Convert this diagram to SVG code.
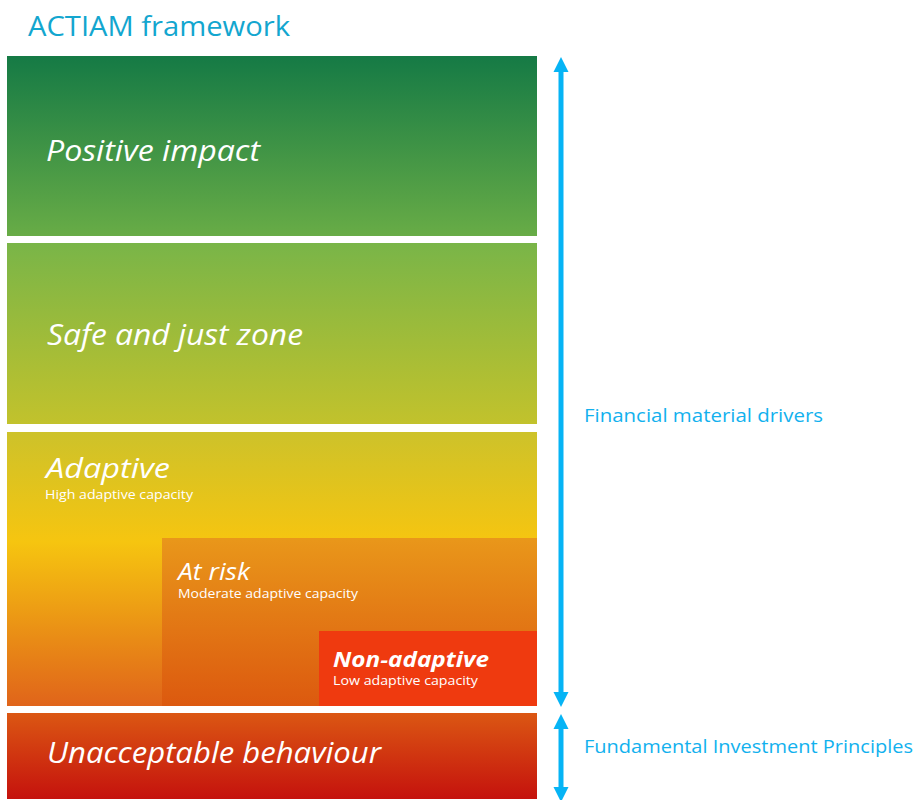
<svg xmlns="http://www.w3.org/2000/svg" width="914" height="800" viewBox="0 0 914 800">
<style>
.lbl{font-family:"Open Sans","Liberation Sans",sans-serif;font-style:italic;fill:#ffffff}
.sub{font-family:"Open Sans","Liberation Sans",sans-serif;fill:#ffffff;font-size:12.5px}
.side{font-family:"Open Sans","Liberation Sans",sans-serif;fill:#12b1ee;font-size:19px}
.arrow{stroke:#06b4f5;stroke-width:5;fill:none}
.head{fill:#06b4f5}
</style>
<defs>
<linearGradient id="g1" x1="0" y1="0" x2="0" y2="1"><stop offset="0" stop-color="#157a45"/><stop offset="1" stop-color="#68ac46"/></linearGradient>
<linearGradient id="g2" x1="0" y1="0" x2="0" y2="1"><stop offset="0" stop-color="#79b548"/><stop offset="1" stop-color="#c2c22c"/></linearGradient>
<linearGradient id="g3" x1="0" y1="0" x2="0" y2="1"><stop offset="0" stop-color="#cdc22a"/><stop offset="0.4" stop-color="#f6c510"/><stop offset="1" stop-color="#e0641a"/></linearGradient>
<linearGradient id="g4" x1="0" y1="0" x2="0" y2="1"><stop offset="0" stop-color="#e9971a"/><stop offset="1" stop-color="#dc590f"/></linearGradient>
<linearGradient id="g5" x1="0" y1="0" x2="0" y2="1"><stop offset="0" stop-color="#db5713"/><stop offset="1" stop-color="#c5120d"/></linearGradient>
</defs>
<rect width="914" height="800" fill="#ffffff"/>
<text x="28" y="36" font-family="'Open Sans','Liberation Sans',sans-serif" font-size="28" fill="#13a6cf" textLength="262" lengthAdjust="spacingAndGlyphs">ACTIAM framework</text>

<g id="positive-impact">
<rect x="7" y="56" width="530" height="180" fill="url(#g1)"/>
<text class="lbl" x="46" y="161" font-size="30" textLength="214" lengthAdjust="spacingAndGlyphs">Positive impact</text>
</g>
<g id="safe-and-just-zone">
<rect x="7" y="243" width="530" height="181" fill="url(#g2)"/>
<text class="lbl" x="47" y="345" font-size="30" textLength="256" lengthAdjust="spacingAndGlyphs">Safe and just zone</text>
</g>
<g id="adaptive">
<rect x="7" y="432" width="530" height="274" fill="url(#g3)"/>
<text class="lbl" x="46" y="478" font-size="27" textLength="124" lengthAdjust="spacingAndGlyphs">Adaptive</text>
<text class="sub" x="45" y="499" textLength="148" lengthAdjust="spacingAndGlyphs">High adaptive capacity</text>
</g>
<g id="at-risk">
<rect x="162" y="538" width="375" height="168" fill="url(#g4)"/>
<text class="lbl" x="178" y="580" font-size="24" textLength="72" lengthAdjust="spacingAndGlyphs">At risk</text>
<text class="sub" x="178" y="598" textLength="180" lengthAdjust="spacingAndGlyphs">Moderate adaptive capacity</text>
</g>
<g id="non-adaptive">
<rect x="319" y="631" width="218" height="75" fill="#ef3a0f"/>
<text class="lbl" x="333" y="667" font-size="22" font-weight="bold" textLength="156" lengthAdjust="spacingAndGlyphs">Non-adaptive</text>
<text class="sub" x="333" y="685" textLength="145" lengthAdjust="spacingAndGlyphs">Low adaptive capacity</text>
</g>
<g id="unacceptable-behaviour">
<rect x="7" y="713" width="530" height="86" fill="url(#g5)"/>
<text class="lbl" x="47" y="763" font-size="30" textLength="334" lengthAdjust="spacingAndGlyphs">Unacceptable behaviour</text>
</g>

<g id="connectors">
<line class="arrow" x1="561" y1="70" x2="561" y2="694"/>
<polygon class="head" points="561,57 553.5,72 568.5,72"/>
<polygon class="head" points="561,707 553.5,692 568.5,692"/>
<line class="arrow" x1="561" y1="727" x2="561" y2="790"/>
<polygon class="head" points="561,714 553.5,729 568.5,729"/>
<polygon class="head" points="561,802 553.5,787 568.5,787"/>
</g>
<g id="side-labels">
<text class="side" x="584" y="422" textLength="239" lengthAdjust="spacingAndGlyphs">Financial material drivers</text>
<text class="side" x="584" y="753" textLength="329" lengthAdjust="spacingAndGlyphs">Fundamental Investment Principles</text>
</g>
</svg>
